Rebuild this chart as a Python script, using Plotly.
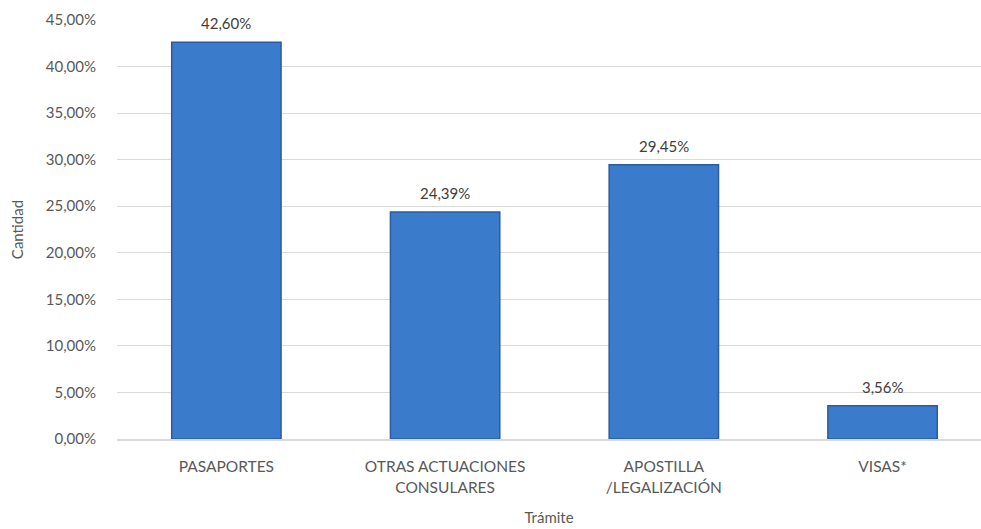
import plotly.graph_objects as go

categories = ["PASAPORTES", "OTRAS ACTUACIONES<br>CONSULARES", "APOSTILLA<br>/LEGALIZACIÓN", "VISAS*"]
values = [42.60, 24.39, 29.45, 3.56]
y_ticks = [0, 5, 10, 15, 20, 25, 30, 35, 40, 45]
y_tick_labels = [f"{v:.2f}%".replace(".", ",") for v in y_ticks]
value_labels = [f"{v:.2f}%".replace(".", ",") for v in values]

font_family = "Lato, 'Open Sans', sans-serif"
txt_color = "#595959"

fig = go.Figure()
fig.add_trace(go.Bar(
    x=categories, y=values, width=0.5,
    marker=dict(color="#3B7BCB", line=dict(color="#2B5C9E", width=1.5)),
    hoverinfo="skip",
))
for c, v, lab in zip(categories, values, value_labels):
    fig.add_annotation(x=c, y=v, text=lab, showarrow=False, yanchor="bottom", yshift=8,
                       font=dict(size=15, color="#404040", family=font_family))

fig.update_layout(
    width=981, height=529,
    margin=dict(l=117, r=0, t=20, b=90),
    plot_bgcolor="white", paper_bgcolor="white",
    showlegend=False,
    font=dict(family=font_family, size=15, color=txt_color),
    xaxis=dict(
        range=[-0.5, 3.45], showgrid=False, showline=True, linecolor="#D9D9D9", linewidth=1.5,
        ticks="", ticklabelstandoff=13, tickfont=dict(size=15.5, color=txt_color),
        title=dict(text="Trámite", font=dict(size=15, color=txt_color), standoff=18),
    ),
    yaxis=dict(
        range=[0, 45], tickvals=y_ticks, ticktext=y_tick_labels,
        showgrid=True, gridcolor="#D9D9D9", gridwidth=1, zeroline=False,
        ticks="", ticklabelstandoff=20,
        tickfont=dict(size=15, color=txt_color),
        title=dict(text="Cantidad", font=dict(size=15, color=txt_color), standoff=18),
    ),
)

fig.write_html("out.html", config={"displayModeBar": False},
               post_script="document.body.style.margin='0';document.body.style.overflow='hidden';")
